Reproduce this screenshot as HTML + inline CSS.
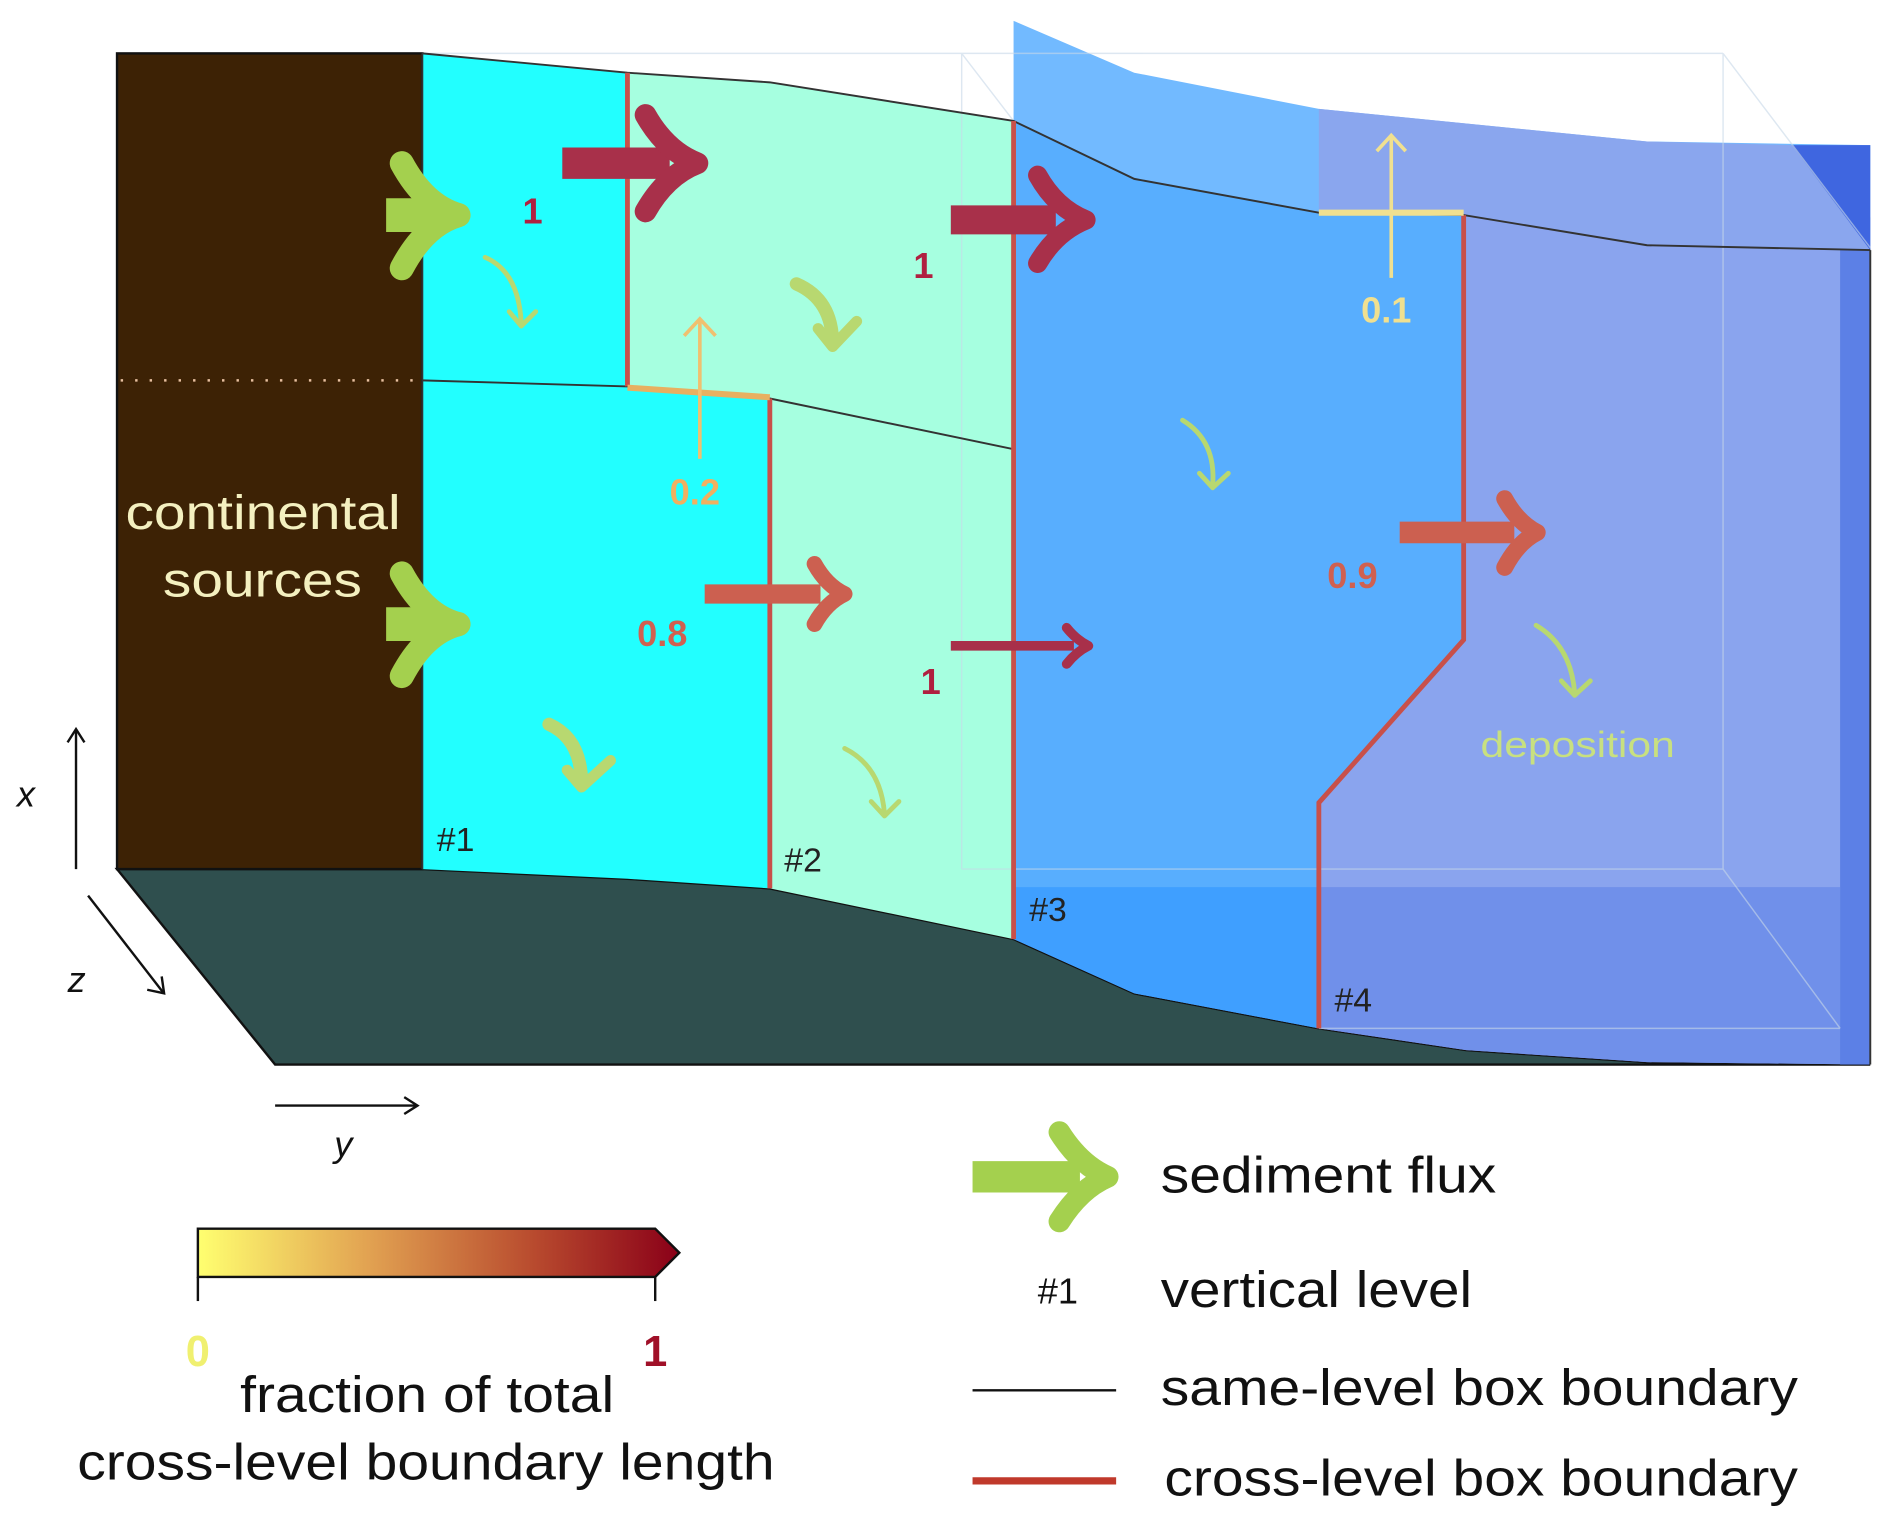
<!DOCTYPE html>
<html><head><meta charset="utf-8"><style>html,body{margin:0;padding:0;background:#fff}svg{display:block}text{font-family:"Liberation Sans",sans-serif}</style></head>
<body>
<svg width="1892" height="1527" viewBox="0 0 1568 1265" xmlns="http://www.w3.org/2000/svg">
<defs>
<linearGradient id="cb" x1="0" x2="1"><stop offset="0" stop-color="#ffff70"/><stop offset="0.35" stop-color="#e2a352"/><stop offset="0.7" stop-color="#b84a2e"/><stop offset="1" stop-color="#8a0018"/></linearGradient>
</defs>
<polygon points="97,720 350,720 520,728 638,736 840,778 940,823 1093,852 1215,870 1365,880 1550,882 228,882" fill="#2f4f4e" stroke="#111" stroke-width="2"/>
<rect x="97" y="44" width="253" height="676" fill="#3d2205" stroke="#111" stroke-width="2"/>
<line x1="100" y1="315" x2="345" y2="315" stroke="#e8c0a0" stroke-width="2" stroke-dasharray="2,10"/>
<polygon points="350,44 520,60 520,320 638,330 638,736 520,728 350,720" fill="#22ffff"/>
<polygon points="520,60 638,68 840,100 840,778 638,736 638,330 520,320" fill="#a6ffe0"/>
<polygon points="840,100 940,148 1093,176 1213,178 1213,530 1093,665 1093,852 940,823 840,778" fill="#58aefe"/>
<polygon points="840,735 1093,735 1093,852 940,823 840,778" fill="#3f9fff"/>
<polygon points="840,17 940,60 1093,90 1365,117 1550,120 1550,207 1365,203 1213,178 1093,176 940,148 840,100" fill="#72baff"/>
<polygon points="1093,90 1365,117 1485,120 1550,180 1550,207 1365,203 1213,178 1093,176" fill="#8aa6ee"/>
<polygon points="1485,120 1550,120 1550,207" fill="#3f66e0"/>
<polygon points="1213,178 1365,203 1550,207 1550,882 1365,880 1215,870 1093,852 1093,665 1213,530" fill="#8aa4ee"/>
<polygon points="1093,735 1525,735 1525,852 1550,882 1365,880 1215,870 1093,852" fill="#7090ea"/>
<rect x="1525" y="207" width="25" height="675" fill="#5c80e6"/>
<g stroke="#c8d8e8" stroke-width="1.2" fill="none" opacity="0.6">
<line x1="350" y1="44" x2="1428" y2="44"/><line x1="1428" y1="44" x2="1428" y2="720"/><line x1="797" y1="44" x2="797" y2="720"/>
<line x1="797" y1="44" x2="840" y2="100"/><line x1="1428" y1="44" x2="1550" y2="205"/><line x1="797" y1="720" x2="1428" y2="720"/><line x1="1428" y1="720" x2="1525" y2="852"/><line x1="1093" y1="852" x2="1525" y2="852"/>
</g>
<g stroke="#333" stroke-width="1.6" fill="none">
<polyline points="350,44 520,60 638,68 840,100 940,148 1093,176 1213,178 1365,203 1550,207"/>
<polyline points="350,315 520,320 638,330 840,372"/>
<line x1="350" y1="44" x2="350" y2="720"/>
<line x1="1550" y1="207" x2="1550" y2="882"/>
</g>
<g stroke="#c8504a" stroke-width="4" fill="none">
<line x1="520" y1="60" x2="520" y2="320"/>
<line x1="638" y1="330" x2="638" y2="736"/>
<line x1="840" y1="100" x2="840" y2="778"/>
<polyline points="1213,178 1213,530 1093,665 1093,852"/>
</g>
<line x1="520" y1="321" x2="638" y2="329" stroke="#e8b060" stroke-width="5"/>
<line x1="1093" y1="176" x2="1213" y2="176" stroke="#f0e090" stroke-width="5"/>
<g stroke="#f0c070" stroke-width="3" fill="none"><line x1="580" y1="380" x2="580" y2="265"/><polyline points="567,278 580,264 593,278"/></g>
<g stroke="#f0e090" stroke-width="3" fill="none"><line x1="1153" y1="230" x2="1153" y2="112"/><polyline points="1141,125 1153,112 1165,125"/></g>
<g fill="none" stroke-linecap="round" stroke-linejoin="round">
<g stroke="#a4d04e"><line x1="320" y1="178" x2="360" y2="178" stroke-width="28" stroke-linecap="butt"/><path d="M333,135 Q352,170 380,178 Q352,186 333,222" stroke-width="20"/>
<line x1="320" y1="517" x2="360" y2="517" stroke-width="28" stroke-linecap="butt"/><path d="M333,475 Q352,510 380,517 Q352,524 333,560" stroke-width="20"/></g>
<g stroke="#a8304a"><line x1="466" y1="135" x2="555" y2="135" stroke-width="26" stroke-linecap="butt"/><path d="M535,95 Q552,125 578,135 Q552,145 535,175" stroke-width="18"/>
<line x1="788" y1="182" x2="875" y2="182" stroke-width="24" stroke-linecap="butt"/><path d="M860,145 Q875,172 900,182 Q875,192 860,218" stroke-width="16"/>
<line x1="788" y1="535" x2="890" y2="535" stroke-width="8" stroke-linecap="butt"/><path d="M884,520 Q892,530 902,535 Q892,540 884,550" stroke-width="8"/></g>
<g stroke="#cc6050"><line x1="584" y1="492" x2="680" y2="492" stroke-width="16" stroke-linecap="butt"/><path d="M675,467 Q685,485 700,492 Q685,499 675,517" stroke-width="13"/>
<line x1="1160" y1="441" x2="1255" y2="441" stroke-width="18" stroke-linecap="butt"/><path d="M1247,413 Q1258,433 1274,441 Q1258,449 1247,470" stroke-width="14"/></g>
<g stroke="#b8d870" stroke-width="4"><path d="M402,213 Q430,225 432,268"/><polyline points="422,258 432,270 444,258"/>
<path d="M980,348 Q1008,365 1005,402"/><polyline points="994,392 1005,404 1018,392"/>
<path d="M1273,518 Q1302,535 1305,574"/><polyline points="1294,564 1305,576 1318,564"/>
<path d="M700,620 Q730,635 733,674"/><polyline points="722,664 733,676 745,664"/></g>
<g stroke="#b8d870" stroke-width="11"><path d="M660,235 Q690,248 690,285"/><polyline points="678,272 690,287 710,266" stroke-width="9"/>
<path d="M455,600 Q482,612 482,650"/><polyline points="470,638 482,652 506,630" stroke-width="9"/></g>
</g>
<g font-weight="bold" font-size="30">
<text x="433" y="185" fill="#b02040">1</text>
<text x="757" y="230" fill="#b02040">1</text>
<text x="763" y="575" fill="#b02040">1</text>
<text x="528" y="535" fill="#d06050">0.8</text>
<text x="1100" y="487" fill="#d06050">0.9</text>
<text x="555" y="418" fill="#f0b060">0.2</text>
<text x="1128" y="267" fill="#f0e090">0.1</text>
</g>
<text x="104" y="438" font-size="40" fill="#f4f0c0" textLength="228" lengthAdjust="spacingAndGlyphs">continental</text>
<text x="135" y="494" font-size="40" fill="#f4f0c0" textLength="165" lengthAdjust="spacingAndGlyphs">sources</text>
<text x="1227" y="627" font-size="30" fill="#c8e080" textLength="161" lengthAdjust="spacingAndGlyphs">deposition</text>
<g font-size="28" fill="#222"><text x="362" y="705">#1</text><text x="650" y="722">#2</text><text x="853" y="763">#3</text><text x="1106" y="838">#4</text></g>
<g stroke="#111" stroke-width="2" fill="none">
<line x1="63" y1="720" x2="63" y2="605"/><polyline points="56,615 63,604 70,615"/>
<line x1="73" y1="742" x2="135" y2="822"/><polyline points="122,820 136,823 134,809"/>
<line x1="228" y1="916" x2="345" y2="916"/><polyline points="335,909 346,916 335,923"/>
</g>
<g font-family="Liberation Serif" font-style="italic" font-size="30" fill="#111"><text x="14" y="668">x</text><text x="56" y="822">z</text><text x="277" y="958">y</text></g>
<polygon points="164,1018 543,1018 563,1038 543,1058 164,1058" fill="url(#cb)" stroke="#111" stroke-width="2"/>
<line x1="164" y1="1058" x2="164" y2="1078" stroke="#111" stroke-width="2"/><line x1="543" y1="1058" x2="543" y2="1078" stroke="#111" stroke-width="2"/>
<text x="164" y="1132" font-size="36" font-weight="bold" fill="#f0f070" text-anchor="middle">0</text>
<text x="543" y="1132" font-size="36" font-weight="bold" fill="#a01028" text-anchor="middle">1</text>
<text x="199" y="1170" font-size="42" fill="#111" textLength="310" lengthAdjust="spacingAndGlyphs">fraction of total</text>
<text x="64" y="1226" font-size="42" fill="#111" textLength="578" lengthAdjust="spacingAndGlyphs">cross-level boundary length</text>
<g fill="none" stroke="#a4d04e" stroke-linejoin="round"><line x1="806" y1="975" x2="895" y2="975" stroke-width="26"/><path d="M878,938 Q895,965 918,975 Q895,985 878,1012" stroke-width="18" stroke-linecap="round"/></g>
<text x="860" y="1080" font-size="30" fill="#111">#1</text>
<text x="962" y="988" font-size="42" fill="#111" textLength="278" lengthAdjust="spacingAndGlyphs">sediment flux</text>
<text x="962" y="1083" font-size="42" fill="#111" textLength="258" lengthAdjust="spacingAndGlyphs">vertical level</text>
<line x1="806" y1="1152" x2="925" y2="1152" stroke="#111" stroke-width="2"/>
<text x="962" y="1164" font-size="42" fill="#111" textLength="528" lengthAdjust="spacingAndGlyphs">same-level box boundary</text>
<line x1="806" y1="1227" x2="925" y2="1227" stroke="#c0392b" stroke-width="6"/>
<text x="965" y="1239" font-size="42" fill="#111" textLength="525" lengthAdjust="spacingAndGlyphs">cross-level box boundary</text>
</svg>
</body></html>
